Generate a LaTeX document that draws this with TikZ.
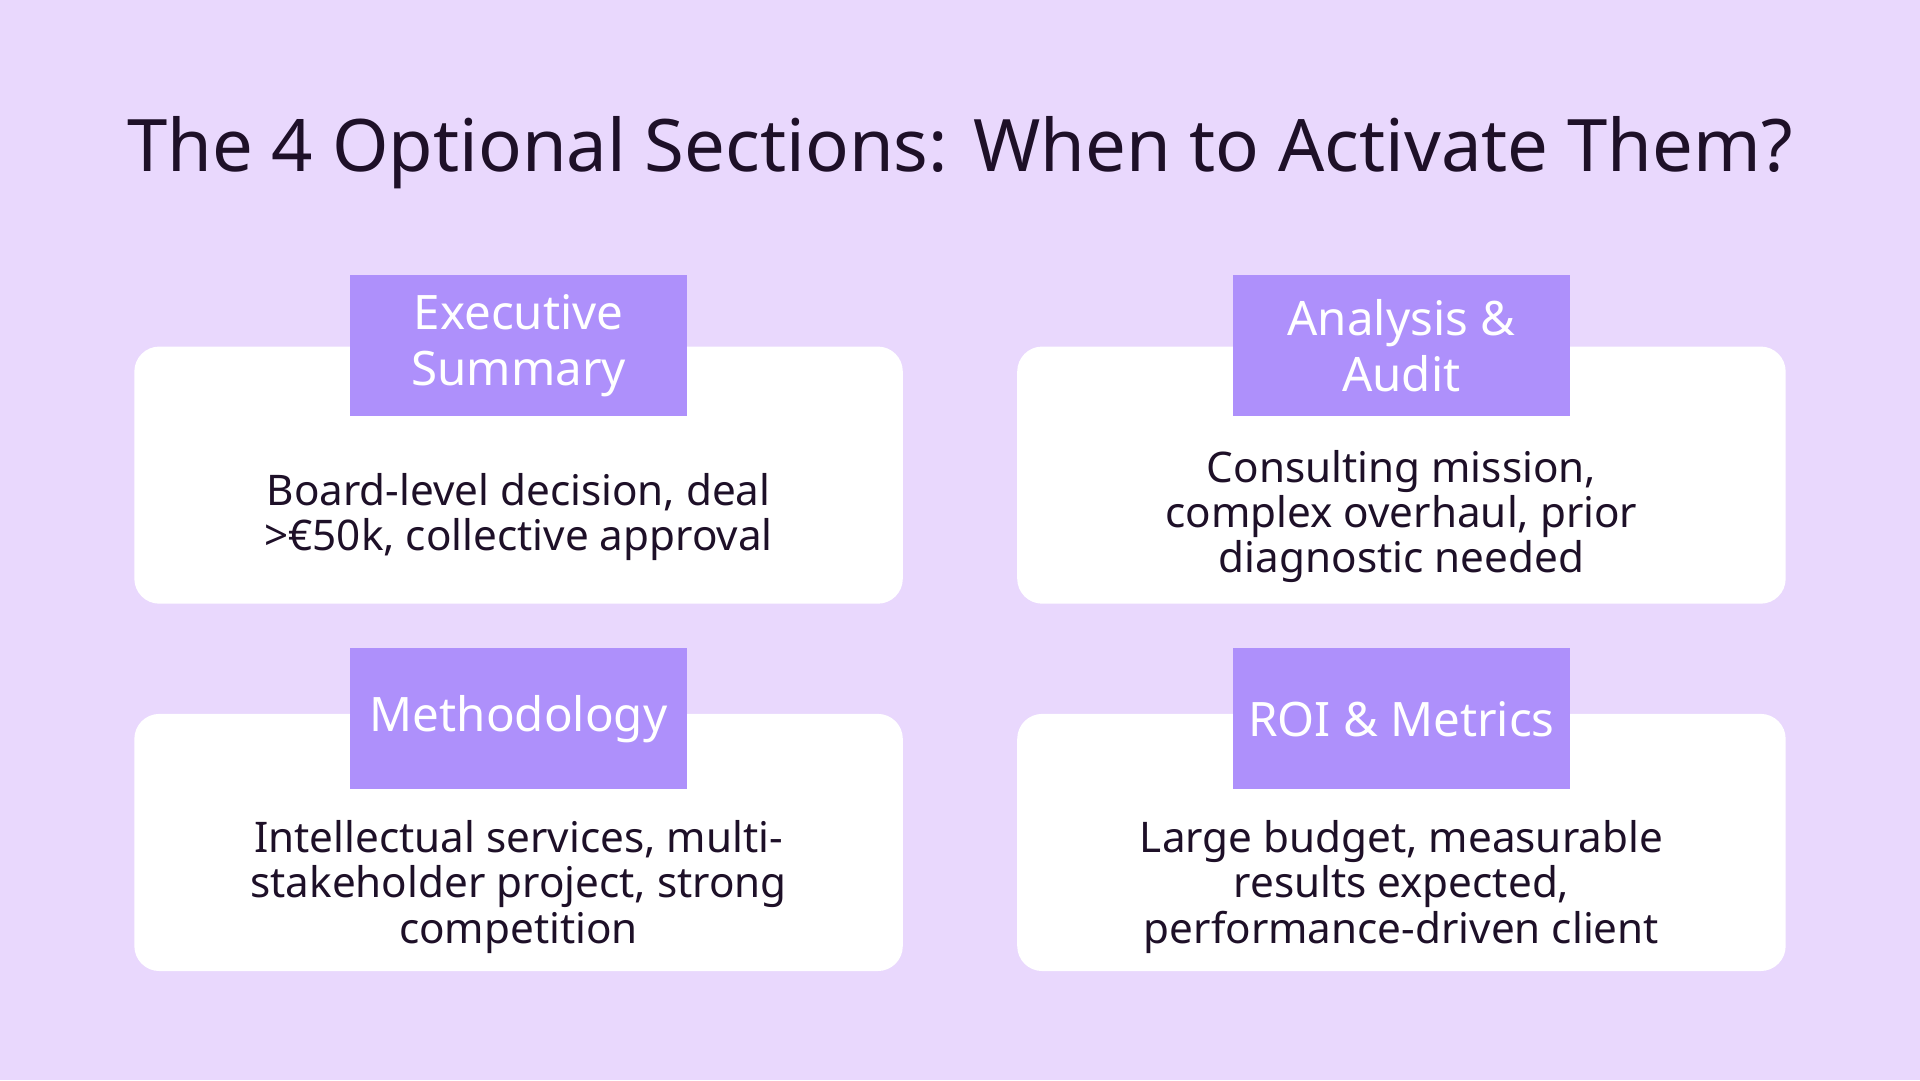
\documentclass[tikz,border=0pt]{standalone}
\usepackage{fontspec}
\setmainfont{Noto Sans}
\usetikzlibrary{positioning,calc}
\definecolor{bgpurple}{HTML}{E9D8FD}
\definecolor{tagpurple}{HTML}{AE90FB}
\definecolor{inkdark}{HTML}{1E1028}

\begin{document}
\begin{tikzpicture}[x=0.012245cm, y=-0.012245cm,
    card/.style={fill=white, rounded corners=0.25cm, minimum width=7.68cm, minimum height=2.57cm, inner sep=0pt},
    tag/.style={fill=tagpurple, minimum width=3.37cm, minimum height=1.41cm, inner sep=0pt, text=white, align=center, font=\fontsize{13.5}{16}\selectfont},
    body/.style={text=inkdark, align=center, font=\fontsize{12}{12.8}\selectfont},
]

% background and frame
\fill[bgpurple] (0,0) rectangle (1568,882);
\useasboundingbox (0,0) rectangle (1568,882);

% === Title ===
\node[text=inkdark, font=\fontsize{20.6}{24}\selectfont] (title) at (784,125) {The 4 Optional Sections: When to Activate Them?};

% === Cards ===
\node[card] (execcard) at (423.5,388) {};
\node[card] (auditcard) at (1144.5,388) {};
\node[card] (methcard) at (423.5,688) {};
\node[card] (roicard) at (1144.5,688) {};

% === Tags ===
\node[tag] (exectag) at (423.5,282.5) {Executive\\Summary};
\node[tag] (audittag) at (1144.5,282.5) {Analysis \&\\Audit};
\node[tag] (methtag) at (423.5,587) {Methodology};
\node[tag] (roitag) at (1144.5,587) {ROI \& Metrics};

% === Texts ===
\node[body] (exectext) at ($(exectag.south)!0.5!(execcard.south)+(0,5)$) {Board-level decision, deal\\>€50k, collective approval};
\node[body] (audittext) at ($(audittag.south)!0.5!(auditcard.south)+(0,5)$) {Consulting mission,\\complex overhaul, prior\\diagnostic needed};
\node[body] (methtext) at ($(methtag.south)!0.5!(methcard.south)+(0,5)$) {Intellectual services, multi-\\stakeholder project, strong\\competition};
\node[body] (roitext) at ($(roitag.south)!0.5!(roicard.south)+(0,5)$) {Large budget, measurable\\results expected,\\performance-driven client};

\end{tikzpicture}
\end{document}
